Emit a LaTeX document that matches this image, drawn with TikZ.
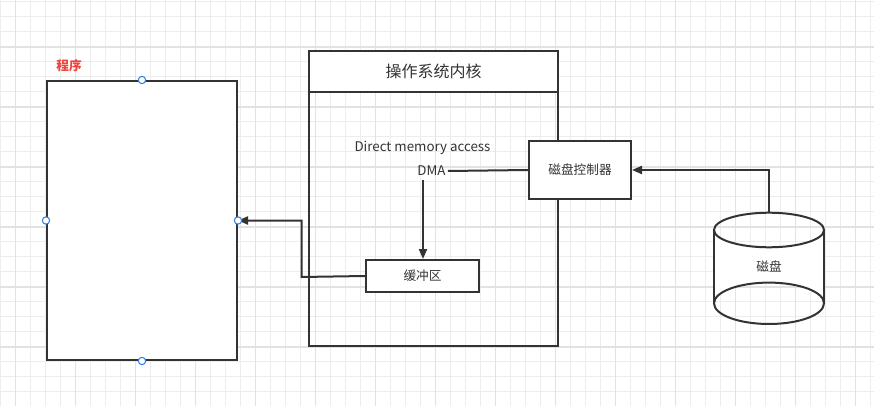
\documentclass[tikz,border=0pt]{standalone}
\usepackage{fontspec}
\setmainfont{Noto Sans CJK SC}
\usetikzlibrary{arrows.meta}
\definecolor{ink}{HTML}{333333}
\definecolor{gridminor}{HTML}{EDEDED}
\definecolor{gridmajor}{HTML}{E2E2E2}
\definecolor{handle}{HTML}{2F80ED}
\definecolor{redlabel}{HTML}{F0433C}
\begin{document}
\begin{tikzpicture}[x=0.75pt,y=-0.75pt,
  box/.style={draw=ink,line width=1.5pt,fill=white,inner sep=0pt,text=ink},
  conn/.style={draw=ink,line width=1.5pt},
  arr/.style={conn,-{Triangle[length=7.5pt,width=6pt]}},
  lbl/.style={text=ink,inner sep=0pt},
  hdl/.style={circle,draw=handle,fill=white,line width=0.8pt,minimum size=5.5pt,inner sep=0pt}]
\useasboundingbox (0,0) rectangle (874,406);
\fill[white] (0,0) rectangle (874,406);
% grid
\foreach \i in {0,...,58} {\draw[gridminor,line width=0.8pt] (0.3+15*\i,0) -- (0.3+15*\i,406);}
\foreach \i in {0,...,27} {\draw[gridminor,line width=0.8pt] (0,1.7+15*\i) -- (874,1.7+15*\i);}
\foreach \i in {0,...,14} {\draw[gridmajor,line width=0.8pt] (15.3+60*\i,0) -- (15.3+60*\i,406);}
\foreach \i in {0,...,6} {\draw[gridmajor,line width=0.8pt] (0,47+60*\i) -- (874,47+60*\i);}
% program
\node[lbl,text=redlabel,font=\fontsize{9.5pt}{11pt}\selectfont\bfseries] (proglbl) at (69,66) {程序};
\node[box,minimum width=142.5pt,minimum height=209.25pt] (prog) at (142,220.5) {};
% OS kernel
\node[draw=ink,line width=1.5pt,inner sep=0pt,minimum width=186.75pt,minimum height=221.25pt] (os) at (433.5,198.5) {};
\node[box,minimum width=186.75pt,minimum height=30.75pt,font=\fontsize{12pt}{14pt}\selectfont] (oshead) at (433.5,71.5) {操作系统内核};
\node[lbl,font=\fontsize{10pt}{12pt}\selectfont] (dmafull) at (422.5,148) {Direct memory access};
\node[lbl,font=\fontsize{10pt}{12pt}\selectfont] (dma) at (431.5,171) {DMA};
\node[box,minimum width=76.5pt,minimum height=43.5pt,font=\fontsize{9.5pt}{11pt}\selectfont] (ctrl) at (580,170) {磁盘控制器};
\node[box,minimum width=84.75pt,minimum height=24pt,font=\fontsize{9.5pt}{11pt}\selectfont] (buf) at (422.5,276) {缓冲区};
% disk cylinder
\coordinate (disktop) at (769,212.7);
\fill[white] (714,230) -- (714,303) arc[start angle=180,end angle=360,x radius=55,y radius=20.7] -- (824,230) arc[start angle=0,end angle=180,x radius=55,y radius=17.3] -- cycle;
\draw[ink,line width=1.5pt] (714,230) -- (714,303) (824,230) -- (824,303);
\draw[ink,line width=1.5pt] (769,230) ellipse[x radius=55,y radius=17.3];
\draw[ink,line width=1.5pt] (769,303.3) ellipse[x radius=55,y radius=20.7];
\node[lbl,font=\fontsize{9.5pt}{11pt}\selectfont] (disk) at (769,267) {磁盘};
% connectors
\draw[conn] (dma.east) ++(2,0) coordinate (dmaR) -- (ctrl.west);
\coordinate (dmaB) at (423,180);
\draw[arr] (dmaB) -- (buf.north -| dmaB);
\draw[arr] (disktop) |- (ctrl.east);
\coordinate (bend) at (301.5,277);
\draw[arr] (buf.west) -- (bend) |- (prog.east);
% handles
\node[hdl] (h1) at (prog.north) {};
\node[hdl] (h2) at (prog.south) {};
\node[hdl] (h3) at (prog.west) {};
\node[hdl] (h4) at (prog.east) {};
\end{tikzpicture}
\end{document}
